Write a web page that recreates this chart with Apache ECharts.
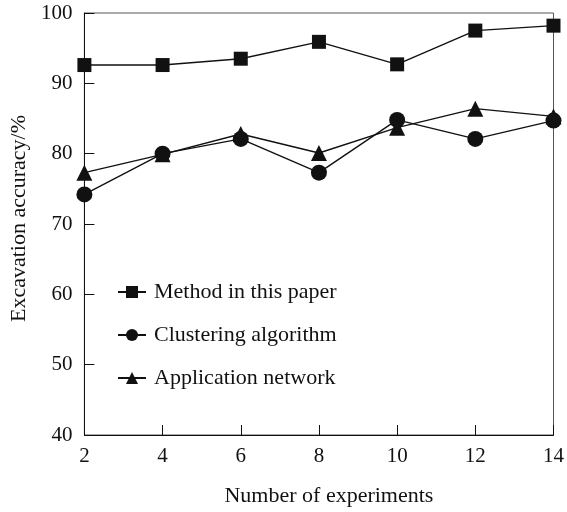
<!DOCTYPE html>
<html>
<head>
<meta charset="utf-8">
<script src="https://cdn.jsdelivr.net/npm/echarts@6/dist/echarts.min.js"></script>
<style>
html,body{margin:0;padding:0;background:#fff;}
#chart{width:567px;height:512px;}
</style>
</head>
<body>
<div id="chart"></div>
<script>
var experiments = [2, 4, 6, 8, 10, 12, 14];
var methodPaper = [92.6, 92.6, 93.5, 95.9, 92.7, 97.5, 98.2];
var clustering = [74.2, 80.0, 82.1, 77.3, 84.8, 82.1, 84.7];
var appNetwork = [77.3, 79.9, 82.8, 80.1, 83.7, 86.4, 85.3];
var seriesNames = ['Method in this paper', 'Clustering algorithm', 'Application network'];
var yTicks = [40, 50, 60, 70, 80, 90, 100];

var FONT = '"Liberation Serif", "DejaVu Serif", serif';
function pairs(vals){ return experiments.map(function(x,i){ return [x, vals[i]]; }); }

var chart = echarts.init(document.getElementById('chart'));
var lineStyle = {color:'#111', width:1.4};
var itemStyle = {color:'#111'};
chart.setOption({
  animation:false,
  backgroundColor:'#fff',
  textStyle:{fontFamily:FONT},
  grid:{left:80, right:9, top:13, bottom:76, show:true, borderColor:'#555', borderWidth:1, backgroundColor:'transparent'},
  legend:{
    orient:'vertical', left:112, top:276, itemGap:21, itemWidth:28, itemHeight:15,
    textStyle:{fontFamily:FONT, fontSize:22, color:'#111', padding:[0,0,0,3]},
    data:seriesNames
  },
  xAxis:{
    type:'value', min:2, max:14, interval:2,
    name:'Number of experiments', nameLocation:'middle', nameGap:50,
    nameTextStyle:{fontFamily:FONT, fontSize:22, color:'#111', padding:[0,0,0,20]},
    axisLine:{lineStyle:{color:'#111', width:1}},
    axisTick:{inside:true, length:10, lineStyle:{color:'#111'}},
    axisLabel:{fontFamily:FONT, fontSize:21, color:'#111', margin:11},
    splitLine:{show:false}
  },
  yAxis:{
    type:'value', min:40, max:100, interval:10,
    name:'Excavation accuracy/%', nameLocation:'middle', nameGap:50, nameRotate:90,
    nameTextStyle:{fontFamily:FONT, fontSize:22, color:'#111', padding:[0,0,0,11]},
    axisLine:{show:true, lineStyle:{color:'#111', width:1}},
    axisTick:{show:true, inside:true, length:10, lineStyle:{color:'#111'}},
    axisLabel:{fontFamily:FONT, fontSize:21, color:'#111', margin:12,
      formatter:function(v){ return yTicks.indexOf(v) >= 0 ? String(v) : ''; }},
    splitLine:{show:false}
  },
  series:[
    {name:seriesNames[0], type:'line', data:pairs(methodPaper), symbol:'rect', symbolSize:14, lineStyle:lineStyle, itemStyle:itemStyle},
    {name:seriesNames[1], type:'line', data:pairs(clustering), symbol:'circle', symbolSize:16, lineStyle:lineStyle, itemStyle:itemStyle},
    {name:seriesNames[2], type:'line', data:pairs(appNetwork), symbol:'triangle', symbolSize:16, lineStyle:lineStyle, itemStyle:itemStyle}
  ]
});
</script>
</body>
</html>
